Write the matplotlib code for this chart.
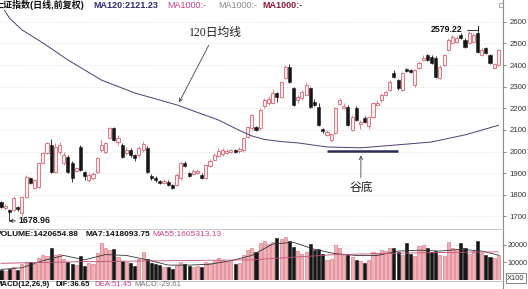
import matplotlib
matplotlib.use("Agg")
import matplotlib.pyplot as plt
from matplotlib.lines import Line2D
from matplotlib.patches import Rectangle
import numpy as np

# ---- daily OHLC of the index ----
opens = [1767, 1739, 1730, 1730, 1745, 1715, 1790, 1878, 1831, 1836,
         1947, 1993, 2031, 1905, 2000, 1947, 1975, 1947, 1910, 2021,
         1905, 1868, 1878, 1905, 2007, 1998, 2063, 2109, 2045, 2031,
         1993, 2007, 1984, 1984, 2007, 2017, 1887, 1878, 1864, 1855,
         1859, 1845, 1845, 1878, 1947, 1901, 1896, 1901, 1892, 1878,
         1933, 1961, 1980, 1988, 1993, 1998, 2007, 2003, 2007, 2068,
         2109, 2114, 2109, 2211, 2225, 2225, 2271, 2253, 2341, 2392,
         2294, 2239, 2248, 2262, 2294, 2230, 2206, 2104, 2077, 2054,
         2086, 2220, 2202, 2206, 2100, 2202, 2128, 2156, 2118, 2160,
         2216, 2239, 2262, 2285, 2364, 2331, 2285, 2382, 2378, 2308,
         2387, 2424, 2447, 2438, 2433, 2341, 2401, 2470, 2503, 2507,
         2540, 2517, 2503, 2507, 2549, 2447, 2480, 2447, 2387, 2401]
closes = [1743, 1748, 1720, 1785, 1735, 1790, 1882, 1855, 1868, 1947,
          1993, 2040, 1905, 2021, 2031, 1984, 1905, 1878, 1924, 1915,
          1887, 1892, 1896, 1970, 2031, 2040, 2109, 2054, 2063, 1975,
          2007, 1984, 1970, 2017, 2035, 1905, 1878, 1868, 1855, 1864,
          1845, 1831, 1892, 1947, 1933, 1887, 1910, 1910, 1878, 1938,
          1956, 1984, 2003, 2007, 2003, 2007, 1998, 2012, 2063, 2114,
          2169, 2100, 2193, 2239, 2244, 2271, 2253, 2322, 2392, 2322,
          2216, 2253, 2276, 2308, 2206, 2216, 2123, 2095, 2091, 2082,
          2202, 2239, 2211, 2123, 2160, 2146, 2137, 2137, 2160, 2225,
          2225, 2262, 2276, 2322, 2345, 2294, 2364, 2373, 2368, 2378,
          2410, 2433, 2424, 2410, 2345, 2392, 2447, 2517, 2531, 2526,
          2526, 2484, 2549, 2540, 2461, 2470, 2456, 2410, 2405, 2470]
highs = [1772, 1755, 1735, 1795, 1750, 1795, 1890, 1882, 1873, 1952,
         1998, 2045, 2060, 2040, 2045, 2000, 1985, 1955, 1930, 2030,
         1910, 1900, 1905, 1975, 2060, 2045, 2115, 2115, 2075, 2040,
         2020, 2015, 1990, 2025, 2050, 2025, 1895, 1885, 1870, 1875,
         1868, 1850, 1900, 1955, 1955, 1905, 1920, 1920, 1900, 1942,
         1966, 1995, 2015, 2015, 2010, 2012, 2012, 2020, 2068, 2120,
         2175, 2120, 2200, 2250, 2255, 2290, 2276, 2327, 2400, 2405,
         2300, 2262, 2285, 2320, 2300, 2245, 2225, 2110, 2100, 2088,
         2206, 2250, 2225, 2215, 2170, 2210, 2145, 2165, 2165, 2230,
         2240, 2270, 2285, 2330, 2375, 2336, 2370, 2385, 2382, 2382,
         2420, 2445, 2452, 2445, 2440, 2400, 2452, 2525, 2540, 2535,
         2550, 2525, 2560, 2550, 2579.22, 2480, 2485, 2452, 2410, 2475]
lows = [1739, 1730, 1678.96, 1725, 1725, 1700, 1785, 1850, 1826, 1831,
        1942, 1988, 1900, 1900, 1985, 1938, 1900, 1860, 1905, 1910,
        1870, 1860, 1870, 1900, 2000, 1990, 2058, 2050, 2030, 1970,
        1985, 1975, 1955, 1975, 2000, 1900, 1870, 1860, 1848, 1850,
        1840, 1826, 1840, 1870, 1928, 1880, 1890, 1895, 1873, 1873,
        1928, 1955, 1975, 1980, 1988, 1993, 1993, 1995, 2000, 2063,
        2100, 2095, 2100, 2200, 2215, 2220, 2230, 2248, 2336, 2318,
        2210, 2225, 2240, 2255, 2200, 2210, 2118, 2085, 2070, 2045,
        2080, 2215, 2195, 2118, 2095, 2140, 2105, 2130, 2105, 2155,
        2210, 2230, 2255, 2280, 2340, 2285, 2280, 2368, 2364, 2300,
        2382, 2420, 2420, 2405, 2338, 2336, 2396, 2465, 2498, 2500,
        2520, 2478, 2498, 2500, 2455, 2440, 2450, 2405, 2380, 2395]

# volume in units of 100 shares
volumes = [5500, 5000, 6000, 7500, 5500, 9000, 10500, 10500, 9000, 12500,
           14000, 13500, 18000, 14500, 15000, 12000, 10000, 9000, 8500, 13500,
           8000, 9500, 9000, 15500, 21000, 18500, 17000, 17500, 13000, 11000,
           10000, 9500, 8000, 12000, 16000, 12000, 9500, 9000, 8500, 7500,
           7500, 6500, 8500, 10000, 9000, 8000, 7500, 8000, 7500, 10500,
           9500, 11000, 12500, 11500, 10500, 11000, 9000, 9500, 14500, 17000,
           18500, 16000, 21000, 22000, 20500, 21500, 24000, 23500, 24500, 22500,
           19000, 16500, 15000, 16000, 20500, 17000, 17500, 15000, 11500, 12000,
           20000, 18500, 14000, 14500, 13000, 11500, 11000, 9500, 11500, 16000,
           15500, 17000, 16500, 18000, 18000, 16000, 14500, 21000, 15000, 13500,
           19500, 20000, 18000, 16000, 16500, 14000, 13500, 21500, 18000, 17500,
           21000, 18000, 15000, 16500, 22000, 15500, 14000, 13000, 12500, 14200]

# 120-day moving average of the close
ma120_idx = [0, 2, 5, 10, 16, 24, 32, 42, 52, 57, 60, 63, 67, 71, 78, 86, 95,
             103, 111, 119]
ma120_val = [2680, 2618, 2563, 2503, 2424, 2331, 2271, 2216, 2146, 2098, 2072,
             2056, 2046, 2040, 2021, 2017, 2031, 2044, 2077, 2121.23]

# volume moving averages
vma7_idx = [0, 5, 10, 15, 20, 25, 30, 35, 40, 45, 50, 55, 60, 65, 70, 75, 80,
            85, 90, 95, 100, 105, 110, 115, 119]
vma7_val = [6000, 7000, 11000, 14000, 11500, 14500, 14000, 11500, 8500, 8500,
            9000, 11000, 14000, 20500, 21500, 17500, 15000, 14000, 14000, 16500,
            17000, 16500, 17500, 16500, 14180]
vma55_idx = [0, 20, 40, 60, 80, 100, 119]
vma55_val = [9500, 10500, 11000, 11500, 14500, 15500, 16053]

price_ticks = [1700, 1800, 1900, 2000, 2100, 2200, 2300, 2400, 2500, 2600]
vol_ticks = [10000, 20000]

UP_EDGE = "#d9707c"
UP_FACE = "#fdeef0"
DOWN = "#161616"

W, H = 528, 289
fig = plt.figure(figsize=(W / 100, H / 100), dpi=100)
fig.patch.set_facecolor("white")


def fx(px):
    return px / W


def fy(py):
    return 1 - py / H


ax = fig.add_axes([0, fy(228), fx(503), fy(10) - fy(228)])
axv = fig.add_axes([0, fy(280), fx(503), fy(236) - fy(280)])

o = np.array(opens, float)
c = np.array(closes, float)
hi = np.array(highs, float)
lo = np.array(lows, float)
n = len(o)
x = np.arange(n)
up = c >= o

# candles
ax.vlines(x[up], lo[up], hi[up], colors=UP_EDGE, lw=0.6, zorder=2)
ax.vlines(x[~up], lo[~up], hi[~up], colors=DOWN, lw=0.6, zorder=2)
bottom = np.minimum(o, c)
height = np.maximum(np.abs(c - o), 2.0)
ax.bar(x[up], height[up], bottom=bottom[up], width=0.74, facecolor=UP_FACE,
       edgecolor=UP_EDGE, lw=0.65, zorder=3)
ax.bar(x[~up], height[~up], bottom=bottom[~up], width=0.74, facecolor=DOWN,
       edgecolor=DOWN, lw=0.4, zorder=3)

# moving average
ax.plot(ma120_idx, ma120_val, color="#4b3f72", lw=0.7, zorder=4)

ax.set_xlim(-0.24, 120.1)
ax.set_ylim(1646, 2655)
for s in ax.spines.values():
    s.set_visible(False)
ax.set_xticks([])
ax.yaxis.tick_right()
ax.set_yticks(price_ticks)
ax.set_yticklabels([str(t) for t in price_ticks])
ax.tick_params(axis="y", length=2.5, pad=2.0, width=0.6, color="#777777",
               labelsize=5.6, labelcolor="#333333")
for lab in ax.get_yticklabels():
    lab.set_family("Liberation Sans")
for t in price_ticks:
    ax.axhline(t, color="#dedede", lw=0.5, ls=(0, (2, 2)), zorder=0)

# annotations
cjk = ["Liberation Serif", "Noto Sans CJK SC"]
ax.text(51.2, 2549, "120日均线", family=cjk, fontsize=8.5, ha="center",
        va="center", color="#222222")
ax.annotate("", xy=(42.3, 2216), xytext=(50.0, 2503),
            arrowprops=dict(arrowstyle="->", color="#444444", lw=0.6,
                            mutation_scale=6))
ax.plot([78, 95], [2003, 2003], color="#2b2b55", lw=1.8, zorder=5,
        solid_capstyle="butt")
ax.text(86.1, 1831, "谷底", family=cjk, fontsize=8.5, ha="center",
        va="center", color="#222222")
ax.annotate("", xy=(86.1, 1995), xytext=(86.1, 1866),
            arrowprops=dict(arrowstyle="->", color="#444444", lw=0.6,
                            mutation_scale=6))
ax.annotate("1678.96", xy=(2.0, 1679), xytext=(4.1, 1679),
            fontsize=6.3, fontweight="bold", family="Liberation Sans",
            ha="left", va="center", color="#111111",
            arrowprops=dict(arrowstyle="->", color="#111111", lw=0.6,
                            mutation_scale=5, shrinkA=0, shrinkB=0))
ax.annotate("2579.22", xy=(114, 2579.22), xytext=(110.5, 2563),
            fontsize=6.3, fontweight="bold", family="Liberation Sans",
            ha="right", va="center", color="#111111",
            arrowprops=dict(arrowstyle="-", color="#111111", lw=0.6,
                            connectionstyle="angle,angleA=0,angleB=90,rad=0",
                            shrinkA=1, shrinkB=0))

# volume panel
v = np.array(volumes, float)
axv.bar(x[up], v[up], width=0.74, facecolor="#f2b0b7", edgecolor="#d9808a",
        lw=0.5, zorder=2)
axv.bar(x[~up], v[~up], width=0.74, facecolor=DOWN, edgecolor=DOWN, lw=0.4,
        zorder=2)
axv.plot(vma7_idx, vma7_val, color="#333333", lw=0.6, zorder=3)
axv.plot(vma55_idx, vma55_val, color="#c0507a", lw=0.6, zorder=3)
axv.set_xlim(-0.24, 120.1)
axv.set_ylim(0, 25100)
for s in axv.spines.values():
    s.set_visible(False)
axv.set_xticks([])
axv.yaxis.tick_right()
axv.set_yticks(vol_ticks)
axv.set_yticklabels([str(t) for t in vol_ticks])
axv.tick_params(axis="y", length=2.0, pad=1.5, width=0.6, color="#777777",
                labelsize=5.2, labelcolor="#333333")
for lab in axv.get_yticklabels():
    lab.set_family("Liberation Sans")
for t in vol_ticks:
    axv.axhline(t, color="#dedede", lw=0.5, ls=(0, (2, 2)), zorder=0)

# frame lines
fig.add_artist(Line2D([fx(503), fx(503)], [0, 1], color="#8a8a8a", lw=0.8))
for yy in (229, 281):
    fig.add_artist(Line2D([0, fx(503)], [fy(yy), fy(yy)], color="#bdbdbd",
                          lw=0.6))
fig.add_artist(Rectangle((fx(499), fy(7)), fx(4), fy(3) - fy(7), fill=False,
                         edgecolor="#888888", lw=0.5))
fig.text(fx(507), fy(278), "X100", fontsize=5.4, family="Liberation Sans",
         color="#333333", va="center", ha="left",
         bbox=dict(boxstyle="square,pad=0.15", fc="white", ec="#555555",
                   lw=0.5))

# header lines
hdr = ["Liberation Sans", "Noto Sans CJK SC"]
fig.text(fx(-5), fy(5), "上证指数(日线,前复权)", family=hdr, fontsize=6.5,
         fontweight="bold", color="#111111", va="center")
fig.text(fx(93), fy(5), "MA120:2121.23", family=hdr, fontsize=6.5,
         fontweight="bold", color="#2c2c6e", va="center")
fig.text(fx(167), fy(5), "MA1000:-", family=hdr, fontsize=6.5,
         color="#c8408c", va="center")
fig.text(fx(218), fy(5), "MA1000:-", family=hdr, fontsize=6.5,
         color="#8a8a8a", va="center")
fig.text(fx(262), fy(5), "MA1000:-", family=hdr, fontsize=6.5,
         fontweight="bold", color="#8c1c3c", va="center")

fig.text(fx(-4), fy(234), "VOLUME:1420654.88", family=hdr, fontsize=6,
         fontweight="bold", color="#111111", va="center")
fig.text(fx(85), fy(234), "MA7:1418093.75", family=hdr, fontsize=6,
         fontweight="bold", color="#111111", va="center")
fig.text(fx(152), fy(234), "MA55:1605313.13", family=hdr, fontsize=6,
         color="#c8408c", va="center")

fig.text(fx(-4), fy(285), "MACD(12,26,9)", family=hdr, fontsize=5.6,
         fontweight="bold", color="#111111", va="center")
fig.text(fx(55), fy(285), "DIF:36.65", family=hdr, fontsize=5.6,
         fontweight="bold", color="#111111", va="center")
fig.text(fx(94), fy(285), "DEA:51.45", family=hdr, fontsize=5.6,
         color="#c8408c", va="center")
fig.text(fx(134), fy(285), "MACD:-29.61", family=hdr, fontsize=5.6,
         color="#777777", va="center")

fig.savefig("out.png", dpi=100)
